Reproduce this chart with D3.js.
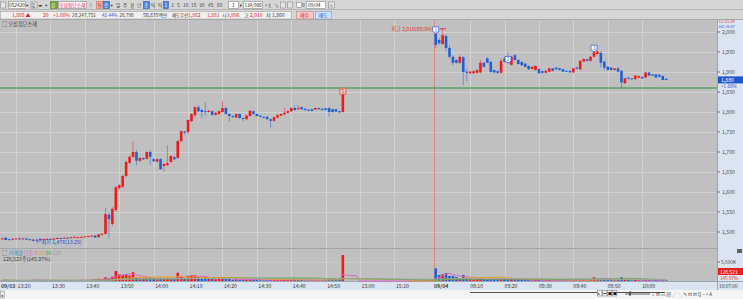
<!DOCTYPE html>
<html><head><meta charset="utf-8">
<script src="https://cdn.jsdelivr.net/npm/d3@7"></script>
<style>html,body{margin:0;padding:0;background:#d6d6d6;overflow:hidden}svg{display:block}text{font-family:"Noto Sans CJK KR","DejaVu Sans",sans-serif}</style>
</head><body><svg id="c" width="743" height="299"></svg>
<script>
// ---------------- DATA ----------------
const priceTicks = [1500,1550,1600,1650,1700,1750,1800,1850,1900,1950,2000];
const prevClose = 1860;
const lastPrice = 1880;
// day 1 (09/03) one-minute candles from 13:16, [open, high, low, close]
const day1Candles = [
[1483,1485,1481,1484],[1486,1487,1479,1480],[1482,1483,1480,1481],[1481,1484,1480,1483],[1483,1485,1482,1484],
[1484,1486,1481,1482],[1482,1485,1481,1484],[1484,1485,1480,1481],[1482,1483,1479,1480],[1481,1482,1476,1478],
[1479,1482,1478,1481],[1483,1485,1477,1479],[1480,1483,1479,1482],[1482,1484,1481,1483],[1483,1484,1480,1481],
[1481,1485,1480,1484],[1484,1486,1483,1485],[1485,1486,1482,1483],[1484,1487,1483,1486],[1486,1487,1484,1485],
[1485,1488,1484,1487],[1487,1489,1485,1488],[1486,1488,1485,1487],[1487,1489,1486,1488],[1488,1490,1487,1489],
[1489,1491,1488,1490],[1490,1492,1489,1491],[1491,1492,1485,1486],[1487,1495,1486,1494],[1493,1497,1492,1496],
[1495,1560,1494,1545],[1543,1550,1485,1532],[1520,1562,1515,1558],[1555,1615,1550,1612],[1610,1620,1605,1617],
[1613,1643,1610,1640],[1640,1678,1636,1675],[1673,1692,1670,1688],[1688,1727,1685,1700],[1700,1705,1667,1678],
[1678,1688,1675,1685],[1685,1687,1680,1682],[1683,1702,1681,1700],[1700,1705,1667,1688],[1682,1684,1675,1677],
[1676,1684,1674,1682],[1682,1685,1655,1657],[1665,1672,1651,1670],[1667,1717,1665,1672],[1675,1692,1673,1690],
[1687,1690,1680,1682],[1685,1730,1683,1727],[1727,1754,1725,1752],[1751,1753,1742,1748],[1750,1782,1745,1780],
[1777,1797,1775,1795],[1792,1815,1787,1812],[1812,1817,1800,1802],[1805,1808,1785,1800],[1802,1825,1790,1800],
[1800,1805,1798,1803],[1802,1804,1790,1793],[1793,1800,1791,1798],[1795,1804,1793,1802],[1800,1828,1798,1810],
[1810,1812,1793,1795],[1795,1797,1776,1790],[1790,1792,1786,1788],[1786,1797,1785,1795],[1795,1797,1783,1785],
[1785,1786,1777,1783],[1782,1793,1780,1791],[1790,1805,1788,1803],[1802,1804,1793,1795],[1795,1796,1788,1790],
[1791,1792,1787,1788],[1788,1789,1785,1786],[1788,1789,1781,1782],[1782,1784,1760,1778],[1778,1789,1776,1787],
[1786,1794,1784,1792],[1791,1797,1790,1795],[1794,1810,1793,1798],[1798,1804,1797,1802],[1802,1812,1800,1810],
[1810,1817,1803,1805],[1807,1817,1806,1810],[1812,1814,1805,1807],[1808,1809,1803,1805],[1806,1807,1802,1803],
[1807,1808,1801,1803],[1806,1812,1805,1810],[1810,1811,1806,1807],[1808,1809,1803,1805],[1809,1810,1804,1805],
[1810,1811,1788,1800],[1807,1808,1798,1800],[1807,1808,1799,1801],[1802,1803,1798,1799],[1800,1850,1799,1845]
];
const day1Volume = [
160,260,110,130,80,160,130,110,210,320,130,260,160,110,130,180,130,110,160,130,180,160,210,160,260,240,320,
530,600,470,
970,710,1130,2630,1760,1580,1660,1390,2290,1050,710,600,790,870,530,450,790,600,790,710,450,2180,1320,600,1390,1500,1500,1050,790,1050,
530,600,450,710,790,600,530,340,450,340,260,450,530,340,260,180,180,260,340,340,340,260,340,260,450,340,260,260,180,180,180,260,180,260,260,710,340,260,260,
6840
];
// day 2 (09/04) one-minute candles from 09:00
const day2Candles = [
[1996,2002,1960,1968],[1980,1985,1968,1972],[1970,2010,1968,1992],[1990,1995,1951,1960],[1960,1967,1934,1938],
[1938,1942,1917,1923],[1930,1932,1920,1923],[1923,1942,1920,1938],[1937,1940,1867,1900],[1901,1909,1876,1898],
[1897,1903,1895,1901],[1897,1904,1896,1902],[1898,1907,1896,1905],[1899,1930,1897,1923],[1923,1925,1911,1913],
[1934,1937,1922,1923],[1925,1928,1898,1900],[1905,1906,1897,1899],[1902,1903,1896,1898],[1898,1934,1896,1928],
[1934,1938,1924,1926],[1932,1950,1920,1923],[1918,1940,1916,1938],[1942,1945,1928,1930],[1930,1932,1918,1920],
[1925,1927,1915,1917],[1921,1923,1911,1913],[1915,1917,1905,1907],[1908,1915,1906,1913],[1905,1917,1903,1915],
[1907,1909,1895,1897],[1902,1903,1896,1898],[1898,1905,1897,1903],[1901,1911,1899,1909],[1909,1910,1902,1903],
[1911,1912,1905,1907],[1909,1911,1904,1905],[1907,1908,1900,1901],[1903,1904,1900,1901],[1903,1904,1898,1899],
[1899,1911,1898,1909],[1911,1913,1907,1908],[1907,1930,1905,1928],[1926,1934,1925,1932],[1932,1934,1927,1928],
[1928,1940,1926,1938],[1938,1951,1936,1949],[1945,1955,1943,1951],[1948,1952,1911,1923],[1926,1928,1905,1911],
[1913,1915,1903,1905],[1911,1912,1904,1905],[1905,1910,1904,1909],[1909,1913,1899,1901],[1903,1905,1860,1874],
[1872,1886,1870,1884],[1886,1887,1882,1883],[1884,1885,1881,1882],[1882,1892,1881,1891],[1886,1891,1885,1890],
[1888,1889,1883,1884],[1886,1900,1885,1899],[1899,1900,1890,1891],[1894,1895,1890,1891],[1894,1895,1885,1886],
[1893,1894,1887,1888],[1890,1891,1879,1880],[1883,1884,1879,1880]
];
const day2Volume = [
3340,1580,1760,2100,1320,1320,1050,790,1580,790,
450,340,450,710,450,340,530,340,260,710,450,450,530,340,340,260,260,340,180,340,
340,180,180,260,180,180,180,260,180,180,340,180,530,340,180,340,970,450,710,450,
340,260,180,340,970,530,260,180,340,180,180,340,260,180,260,180,340,180
];
const volumeTicks = [5000];
const maPeriods = [5,20,60,120];
const maColors = ["#e060c8","#e8a020","#38a838","#a8a8a8"];
const day1TimeTicks = ["13:20","13:30","13:40","13:50","14:00","14:10","14:20","14:30","14:40","14:50","15:00","15:10"];
const day2TimeTicks = ["09:10","09:20","09:30","09:40","09:50","10:00"];
const day1Start = "13:16", day2Start = "09:00", day2FirstSlot = 126;
const signals = [ {slot:126, price:2005, label:"1"}, {slot:147, price:1931, label:"2"}, {slot:172, price:1959, label:"3"} ];

// ---------------- SCALES ----------------
const W = 743, H = 299;
const svg = d3.select("#c");
const mins = s => { const [h,m] = s.split(":").map(Number); return h*60+m; };
const slot1 = t => mins(t) - mins(day1Start);
const slot2 = t => day2FirstSlot + mins(t) - mins(day2Start);
const x = d3.scaleLinear().domain([0, 207]).range([2.3, 2.3 + 207*3.44]);
const y = d3.scaleLinear().domain([1500, 2000]).range([232, 32]);
const yv = d3.scaleLinear().domain([0, 5000]).range([281, 262]);
const UP = "#ec1c1c", DOWN = "#1f5fd6";
const PR = 717; // plot right edge
const LAT = "'Liberation Sans', Arial, sans-serif";

// ---------------- BACKGROUNDS ----------------
svg.append("rect").attr("width", W).attr("height", H).attr("fill", "#d6d6d6");
svg.append("rect").attr("x", 0).attr("y", 20).attr("width", PR).attr("height", 261).attr("fill", "#c0c0c0");
svg.append("rect").attr("x", PR).attr("y", 20).attr("width", W-PR).attr("height", 270).attr("fill", "#dae5f1");
svg.append("rect").attr("x", 0).attr("y", 281).attr("width", W).attr("height", 9).attr("fill", "#dae5f1");
svg.append("line").attr("x1",0).attr("x2",W).attr("y1",281.5).attr("y2",281.5).attr("stroke","#9aa6b4");
svg.append("line").attr("x1",PR+0.5).attr("x2",PR+0.5).attr("y1",20).attr("y2",290).attr("stroke","#9aa6b4");
svg.append("rect").attr("x", 0).attr("y", 290).attr("width", W).attr("height", 9).attr("fill", "#f4f4f4");

// grid
const gridCol = "#d2d2d2";
priceTicks.forEach(p => svg.append("line").attr("x1",0).attr("x2",PR).attr("y1",Math.round(y(p))+0.5).attr("y2",Math.round(y(p))+0.5).attr("stroke",gridCol));
const tickSlots = day1TimeTicks.map(slot1).concat(day2TimeTicks.map(slot2));
tickSlots.forEach(s => svg.append("line").attr("x1",Math.round(x(s))+0.5).attr("x2",Math.round(x(s))+0.5).attr("y1",20).attr("y2",281).attr("stroke",gridCol));
// pane separator
svg.append("line").attr("x1",0).attr("x2",PR).attr("y1",248.5).attr("y2",248.5).attr("stroke","#a4a4a4");
volumeTicks.forEach(v => svg.append("line").attr("x1",0).attr("x2",PR).attr("y1",Math.round(yv(v))+0.5).attr("y2",Math.round(yv(v))+0.5).attr("stroke","#cacaca"));
// day divider (between the last day-1 slot and the first day-2 slot)
const divX = Math.round(x(day2FirstSlot - 0.6)) + 0.5;
svg.append("line").attr("x1",divX).attr("x2",divX).attr("y1",20).attr("y2",281).attr("stroke","#d88a8a").attr("stroke-width",1);

// previous close line
svg.append("line").attr("x1",0).attr("x2",PR).attr("y1",y(prevClose)).attr("y2",y(prevClose)).attr("stroke","#23962a").attr("stroke-width",1);

// ---------------- CANDLES ----------------
const candles = day1Candles.map((d,i)=>({slot:i, o:d[0],h:d[1],l:d[2],c:d[3], v:day1Volume[i]}))
  .concat(day2Candles.map((d,i)=>({slot:day2FirstSlot+i, o:d[0],h:d[1],l:d[2],c:d[3], v:day2Volume[i]})));
const col = d => d.c >= d.o ? UP : DOWN;
const cg = svg.append("g");
cg.selectAll("line.w").data(candles).join("line")
  .attr("x1", d=>x(d.slot)).attr("x2", d=>x(d.slot))
  .attr("y1", d=>y(d.h)).attr("y2", d=>y(d.l))
  .attr("stroke", col).attr("stroke-opacity", 0.5).attr("stroke-width", 1);
cg.selectAll("rect.b").data(candles).join("rect")
  .attr("x", d=>x(d.slot)-1.3).attr("width", 2.6)
  .attr("y", d=>y(Math.max(d.o,d.c)))
  .attr("height", d=>Math.max(1, Math.abs(y(d.o)-y(d.c))))
  .attr("fill", col);

// ---------------- VOLUME ----------------
const nSlots = day2FirstSlot + day2Volume.length;
const volAll = d3.range(nSlots).map(s => { const c = candles.find(k=>k.slot===s); return c ? c.v : 0; });
svg.append("g").selectAll("rect").data(candles).join("rect")
  .attr("x", d=>x(d.slot)-1.3).attr("width", 2.6)
  .attr("y", d=>yv(d.v)).attr("height", d=>yv(0)-yv(d.v)).attr("fill", col);
maPeriods.forEach((n,j) => {
  const ma = volAll.map((v,i) => d3.mean(volAll.slice(Math.max(0,i-n+1), i+1)));
  svg.append("path").datum(ma)
    .attr("d", d3.line().x((d,i)=>x(i)).y(d=>yv(d)))
    .attr("fill","none").attr("stroke", maColors[j]).attr("stroke-width", 1);
});

// ---------------- ANNOTATIONS ----------------
const fs = 5.2;
// high label
svg.append("text").attr("x", 432).attr("y", y(2008)+2).attr("text-anchor","end").attr("font-size",fs).attr("fill","#e03838").text("최고 2,010(09/04)");
svg.append("line").attr("x1", 440).attr("x2", 446).attr("y1", y(2008)).attr("y2", y(2008)).attr("stroke","#e03838");
// low label
svg.append("text").attr("x", x(9)+3).attr("y", y(1476)+2).attr("font-size",fs).attr("fill","#2a4ed0").text("←최저 1,476(13:25)");
// signals
signals.forEach(s => {
  const g = svg.append("g").attr("transform", `translate(${x(s.slot)},${y(s.price)})`);
  g.append("path").attr("d","M-3,-3.2H3V1.5L0,3.4L-3,1.5Z").attr("fill","#ffffff").attr("stroke","#3f5fd8").attr("stroke-width",0.8);
  g.append("text").attr("text-anchor","middle").attr("y",1.6).attr("font-size",4.8).attr("fill","#3050d0").text(s.label);
});
{ const g = svg.append("g").attr("transform", `translate(${x(99)},${y(1852)})`);
  g.append("rect").attr("x",-3).attr("y",-3).attr("width",6).attr("height",6).attr("fill","#f6c4c4").attr("stroke","#e05050").attr("stroke-width",0.8);
  g.append("text").attr("text-anchor","middle").attr("y",1.8).attr("font-size",4.5).attr("fill","#e03030").text("S"); }

// title
svg.append("text").attr("x",2).attr("y",26).attr("font-size",fs).attr("fill","#404040").text("□ 오성첨단소재");
// volume legend
const lg = svg.append("text").attr("x",2).attr("y",255).attr("font-size",fs);
lg.append("tspan").attr("fill","#505050").text("□ ");
lg.append("tspan").attr("fill","#2a86a8").text("거래량 ");
lg.append("tspan").attr("fill",maColors[0]).text("단순 5 ");
lg.append("tspan").attr("fill","#d8b000").text("20 ");
lg.append("tspan").attr("fill",maColors[2]).text("60 ");
lg.append("tspan").attr("fill","#9a9a9a").text("120");
svg.append("text").attr("x",3).attr("y",261).attr("font-size",fs).attr("fill","#404040").text("128,523주(145.97%)");

// ---------------- AXES ----------------
const ra = svg.append("g");
priceTicks.forEach(p => {
  ra.append("line").attr("x1",PR).attr("x2",PR+3).attr("y1",y(p)).attr("y2",y(p)).attr("stroke","#707070");
  ra.append("text").attr("x",PR+5).attr("y",y(p)+2).attr("font-size",fs).attr("font-family",LAT).attr("fill","#505050").text(d3.format(",")(p));
});
ra.append("text").attr("x",PR+2).attr("y",23.2).attr("font-size",4).attr("font-family",LAT).attr("fill","#e03030").text("LC:21.29");
ra.append("text").attr("x",PR+2).attr("y",27.7).attr("font-size",4).attr("font-family",LAT).attr("fill","#3050d0").text("HC:-6.47");
ra.append("rect").attr("x",PR+1).attr("y",y(lastPrice)-3.6).attr("width",W-PR-1).attr("height",7).attr("fill","#1f56d0");
ra.append("text").attr("x",PR+4).attr("y",y(lastPrice)+2).attr("font-size",fs).attr("font-family",LAT).attr("fill","#ffffff").text(d3.format(",")(lastPrice));
ra.append("text").attr("x",PR+4).attr("y",y(lastPrice)+8).attr("font-size",4.6).attr("font-family",LAT).attr("fill","#3050d0").text("+1.08%");
volumeTicks.forEach(v => {
  ra.append("line").attr("x1",PR).attr("x2",PR+3).attr("y1",yv(v)).attr("y2",yv(v)).attr("stroke","#707070");
  ra.append("text").attr("x",PR+4).attr("y",yv(v)+2).attr("font-size",4.8).attr("font-family",LAT).attr("fill","#505050").text("5,000K");
});
ra.append("rect").attr("x",PR+1).attr("y",268).attr("width",W-PR-1).attr("height",7).attr("fill","#e82020");
ra.append("text").attr("x",PR+3).attr("y",273.8).attr("font-size",4.8).attr("font-family",LAT).attr("fill","#ffffff").text("128,523");
ra.append("text").attr("x",PR+3).attr("y",280).attr("font-size",4.6).attr("font-family",LAT).attr("fill","#e03030").text("145.97%");
ra.append("text").attr("x",PR+2).attr("y",287.5).attr("font-size",4.8).attr("font-family",LAT).attr("fill","#404040").text("10:07:00");
svg.append("rect").attr("x",737).attr("y",249).attr("width",5).attr("height",4).attr("fill","#606060");

// x axis labels
const xa = svg.append("g").attr("font-size",fs).attr("fill","#3a3a3a");
xa.append("text").attr("x",1).attr("y",287.5).attr("font-weight","bold").text("09/03");
day1TimeTicks.forEach(t => xa.append("text").attr("x",x(slot1(t))+1.5).attr("y",287.5).text(t));
xa.append("text").attr("x",434).attr("y",287.5).attr("font-weight","bold").text("09/04");
day2TimeTicks.forEach(t => xa.append("text").attr("x",x(slot2(t))).attr("y",287.5).text(t));

// ---------------- TOOLBAR ----------------
const tb = svg.append("g");
tb.append("rect").attr("x",0).attr("y",0).attr("width",W).attr("height",20).attr("fill","#d6d6d6");
tb.append("line").attr("x1",0).attr("x2",W).attr("y1",9.5).attr("y2",9.5).attr("stroke","#b4b4b4");
tb.append("line").attr("x1",0).attr("x2",W).attr("y1",19.5).attr("y2",19.5).attr("stroke","#a8a8a8");
const box = (x0,y0,w,h,fill,stroke) => tb.append("rect").attr("x",x0+0.5).attr("y",y0+0.5).attr("width",w).attr("height",h).attr("fill",fill).attr("stroke",stroke||"#8a8a8a").attr("stroke-width",0.6);
const txt = (x0,y0,s,fill,size,anchor) => tb.append("text").attr("x",x0).attr("y",y0).attr("font-size",size||fs).attr("fill",fill||"#303030").attr("text-anchor",anchor||"start").text(s);
box(0,1.5,5,6,"#e8e8e8");
box(8,1,17,7,"#ffffff"); txt(9,6.8,"052420","#202020",4.8);
txt(26,6.5,"▾","#404040",4.5);
box(30.5,1.5,6,6,"#e6e6e6"); txt(31.5,6.5,"Q","#404040",4.5);
txt(38,6.5,"◂▸","#404040",4.5); txt(45,6.5,"▾","#404040",4.5);
box(50,1,7,7,"#7aa040","#56802c"); txt(51,6.8,"삼","#f0f8e0",4.8);
box(58,1,28,7,"#fff0f4"); txt(59,6.8,"오성첨단소재","#d8207a",4.8);
txt(90,6.8,"!","#404040",5);
box(96,1,6,7,"#f4b0a8","#d07060"); txt(97.5,6.6,"틱","#802020",4.2);
box(103,1,6,7,"#4d86e0","#2a5ab0"); txt(104.2,6.6,"분","#ffffff",4.2);
txt(110.5,6.5,"▾","#404040",4.5);
[["일",116],["주",123],["월",130],["년",137]].forEach(d=>txt(d[1],6.8,d[0],"#404040",4.6));
box(143,1,6,7,"#4d86e0","#2a5ab0"); txt(144.2,6.6,"초","#ffffff",4.2);
txt(151,6.8,"틱","#404040",4.6); txt(158,6.8,"틱","#404040",4.6);
box(163,1,5,7,"#4d86e0","#2a5ab0"); txt(164.4,6.8,"1","#ffffff",4.8);
[["3",171],["5",177],["10",183],["15",191],["30",199],["45",208],["60",217]].forEach(d=>txt(d[1],6.8,d[0],"#404040",4.8));
box(228,1,10,7,"#ffffff"); txt(232,6.8,"1","#202020",4.8);
txt(239.5,6.5,"▾","#404040",4.5);
box(243,1,19,7,"#ffffff"); txt(244.5,6.8,"134/900","#202020",4.6);
txt(265,6.8,"+↕","#404040",4.6); txt(274,6.8,"↘","#404040",4.6); box(280,1.5,5,6,"#e4e4e4"); box(287,1.5,5,6,"#e4e4e4");
box(296,2,5,5,"#ffffff"); txt(302,6.8,"0","#303030",4.8);
box(306,1,19,7,"#ffffff"); txt(308,6.8,"09/04","#202020",4.8);
box(328,1.5,6,6,"#ececec"); txt(329,6.5,"≡","#404040",4.5);
// row 2
box(0,11,291,7.5,"#f0f0f0","#a0a0a0");
txt(12,17.2,"1,880 ▲","#e02020",5);
txt(43,17.2,"20","#e02020",5);
txt(53,17.2,"+1.08%","#e02020",5);
txt(72,17.2,"28,247,751","#303030",4.8);
txt(102,17.2,"42.44%","#2848d0",4.6);
txt(119.5,17.2,"28,798","#303030",4.6);
txt(143,17.2,"50,835백만","#303030",5);
txt(172,17.2,"매도우선","#303030",4.4);
txt(188,17.2,"1,882","#e02020",5);
txt(207,17.2,"1,881","#e02020",5);
txt(222,17.2,"시","#303030",5); txt(227,17.2,"1,996","#e02020",5);
txt(244,17.2,"고","#303030",5); txt(250,17.2,"2,010","#e02020",5);
txt(266,17.2,"저","#303030",5); txt(272,17.2,"1,860","#303030",5);
box(296,11,17,7.5,"#f6c8c8","#c08080"); txt(304.5,17.2,"매수","#d02020",5,"middle");
box(315,11,16,7.5,"#cfe0f6","#7f9cc8"); txt(323,17.2,"매도","#2050c0",5,"middle");

// ---------------- BOTTOM BAR ----------------
const bb = svg.append("g");
bb.append("rect").attr("x",0.5).attr("y",291).attr("width",4).attr("height",7).attr("fill","#e8e8e8").attr("stroke","#9a9a9a").attr("stroke-width",0.6);
bb.append("text").attr("x",1).attr("y",296.5).attr("font-size",4).attr("fill","#303030").text("◂");
bb.append("line").attr("x1",470).attr("x2",665).attr("y1",292.5).attr("y2",292.5).attr("stroke","#505050");
[597,602,607,612].forEach((bx,i)=>{ bb.append("rect").attr("x",bx+0.5).attr("y",290.5).attr("width",4.4).attr("height",5.5).attr("fill","#f8f8f8").attr("stroke","#707070").attr("stroke-width",0.5);
  bb.append("text").attr("x",bx+1).attr("y",295).attr("font-size",3.8).attr("fill","#202020").text(["▸","⏮","■","■"][i]); });
bb.append("line").attr("x1",625).attr("x2",650).attr("y1",294).attr("y2",294).attr("stroke","#606060");
bb.append("rect").attr("x",629).attr("y",291.5).attr("width",2).attr("height",4).attr("fill","#505050");
bb.append("text").attr("x",652).attr("y",296).attr("font-size",4.6).attr("fill","#404040").text("⌕ ⊟ ▭ ⊠ ⋰ ⋱ ✎ ⊡ ⊟ Q − + A");
</script></body></html>
